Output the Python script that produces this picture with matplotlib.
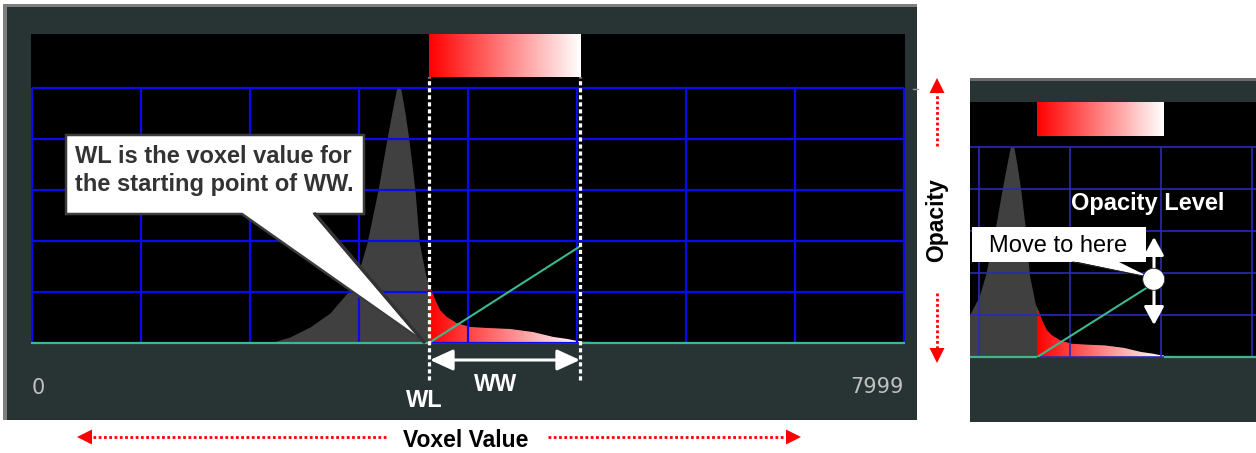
import numpy as np
import matplotlib.pyplot as plt
from matplotlib.colors import LinearSegmentedColormap
from matplotlib.patches import Polygon, Rectangle, Circle

# voxel histogram (normalised counts)
hist_x = [2183, 2367, 2550, 2734, 2890, 3000, 3073, 3174, 3254, 3300, 3345, 3382,
          3422, 3458, 3513, 3553, 3596, 3620, 3645, 3697, 3742, 3804, 3896, 4018,
          4171, 4385, 4596, 4779, 4908, 4999, 5118, 5137]
hist_h = [0.0, 0.024, 0.063, 0.118, 0.196, 0.286, 0.392, 0.600, 0.796, 0.902, 1.0, 1.0,
          0.902, 0.796, 0.600, 0.392, 0.30, 0.25, 0.227, 0.169, 0.129, 0.102, 0.078, 0.063,
          0.059, 0.055, 0.043, 0.024, 0.016, 0.008, 0.008, 0.0]

x_max = 7999
wl = 3640            # window level
ww = 1390            # window width
opacity_level = 0.38
grid_x = [0, 1000, 2000, 3000, 4000, 5000, 6000, 7000, 7999]
grid_y = [0, 0.2, 0.4, 0.6, 0.8, 1.0]
zoom_grid_x = [3000, 4000, 5000, 6000]
handle = (4920, 0.37)

W, H = 1256, 453
PANEL = '#283434'
GREEN = '#3db88c'
FONT = 'Liberation Sans'
red_white = LinearSegmentedColormap.from_list('rw', ['#ff0000', '#ffffff'])

fig = plt.figure(figsize=(W / 100, H / 100), dpi=100)


def px_axes(l, t, r, b, z):
    return fig.add_axes([l / W, 1 - b / H, (r - l) / W, (b - t) / H], zorder=z)


# background (pixel coordinates)
bg = fig.add_axes([0, 0, 1, 1], zorder=0)
bg.set_xlim(0, W)
bg.set_ylim(H, 0)
bg.set_axis_off()
bg.add_patch(Rectangle((3, 4), 914, 416, color=PANEL, lw=0))
bg.add_patch(Rectangle((3, 4), 914, 3, color='#7f7f7f', lw=0))
bg.add_patch(Rectangle((3, 4), 4, 416, color='#7f7f7f', lw=0))
bg.add_patch(Rectangle((970, 78), 286, 344, color=PANEL, lw=0))
bg.add_patch(Rectangle((970, 78), 286, 3, color='#6a6a6a', lw=0))
bg.plot([913, 918], [89, 89], color='#9a9a9a', lw=1)


def draw_panel(ax, xlim, gx, gcolor, glw, bar_y, hx0, hx1):
    ax.set_facecolor('black')
    for s in ax.spines.values():
        s.set_visible(False)
    ax.set_xticks([])
    ax.set_yticks([])
    xs = np.array(hist_x, float)
    hs = np.array(hist_h)
    ax.fill_between(xs, hs, color='#404040', lw=0, zorder=2)
    # part of the histogram inside the window gets the colour ramp
    inside = (xs > wl) & (xs < wl + ww)
    top_x = np.concatenate([[wl], xs[inside], [wl + ww]])
    top_y = np.concatenate([[np.interp(wl, xs, hs)], hs[inside], [np.interp(wl + ww, xs, hs)]])
    verts = np.column_stack([np.r_[top_x, wl + ww, wl], np.r_[top_y, 0, 0]])
    clip = Polygon(verts, closed=True, fc='none', ec='none', transform=ax.transData)
    ax.add_patch(clip)
    grad = np.linspace(0, 1, 256).reshape(1, -1)
    im = ax.imshow(grad, cmap=red_white, extent=[wl, wl + ww, 0, 1], aspect='auto', zorder=3)
    im.set_clip_path(clip)
    ax.imshow(grad, cmap=red_white, extent=[wl, wl + ww, bar_y[0], bar_y[1]],
              aspect='auto', zorder=3)
    # grid
    ax.hlines(grid_y, hx0, hx1, colors=gcolor, lw=glw, zorder=4)
    ax.vlines(gx, 0, 1, colors=gcolor, lw=glw, zorder=4)
    # opacity curve
    ax.hlines(0, xlim[0], wl, colors=GREEN, lw=1.6, zorder=5, clip_on=False)
    ax.hlines(0, wl + ww, xlim[1], colors=GREEN, lw=1.6, zorder=5, clip_on=False)
    ax.plot([wl, wl + ww], [0, opacity_level], color=GREEN, lw=1.5, zorder=5)
    ax.set_xlim(*xlim)
    ax.set_ylim(0, 1.212)


ax = px_axes(31, 34, 905, 343, 1)
draw_panel(ax, (-9, 8008), grid_x, '#0a0af0', 1.6, (1.043, 1.208), 0, x_max)
for xv in (wl, wl + ww):
    ax.plot([xv, xv], [-0.145, 1.043], color='white', lw=2.3, ls=(0, (1.3, 0.9)),
            zorder=6, clip_on=False)

ax2 = px_axes(970, 102, 1256, 357, 1)
draw_panel(ax2, (2901, 6044), zoom_grid_x, '#2a2ab8', 1.2, (1.05, 1.21), 2901, 6044)

# overlay for annotations (pixel coordinates)
ov = fig.add_axes([0, 0, 1, 1], zorder=5)
ov.set_xlim(0, W)
ov.set_ylim(H, 0)
ov.set_axis_off()
ov.patch.set_alpha(0)

ov.text(32, 394, '0', color='#c0c0c0', fontsize=15, ha='left', va='baseline')
ov.text(904, 393, '7999', color='#c0c0c0', fontsize=15, ha='right', va='baseline')

# callout on main panel
call = [(66, 135), (364, 135), (364, 214), (315, 214), (424, 342), (242, 214), (66, 214)]
ov.add_patch(Polygon(call, closed=True, fc='white', ec='#3c3c3c', lw=1.8, zorder=3))
ov.plot([315, 424], [214, 342], color='#333333', lw=2.5, zorder=4, solid_capstyle='round')
ov.text(75, 163, 'WL is the voxel value for', fontsize=17, fontweight='bold',
        color='#333333', family=FONT, ha='left', va='baseline', zorder=5)
ov.text(75, 191, 'the starting point of WW.', fontsize=17, fontweight='bold',
        color='#333333', family=FONT, ha='left', va='baseline', zorder=5)

# WW double arrow and labels
ov.annotate('', xy=(430, 360), xytext=(580, 360),
            arrowprops=dict(arrowstyle='<|-|>,head_length=0.7,head_width=0.32',
                            color='white', lw=2.2, mutation_scale=20,
                            shrinkA=0, shrinkB=0))
ov.text(424, 407, 'WL', fontsize=17, fontweight='bold', color='white', family=FONT,
        ha='center', va='baseline')
ov.text(496, 391, 'WW', fontsize=16.5, fontweight='bold', color='white', family=FONT,
        ha='center', va='baseline')


def red_arrow(x0, y0, x1, y1, hl=15, hw=7.5):
    d = np.array([x1 - x0, y1 - y0], float)
    u = d / np.hypot(*d)
    n = np.array([-u[1], u[0]])
    base = np.array([x1, y1]) - u * hl
    ov.plot([x0, base[0]], [y0, base[1]], color='red', lw=2, ls=(0, (1, 0.9)))
    ov.add_patch(Polygon([(x1, y1), base + n * hw, base - n * hw], closed=True,
                         color='red', lw=0))


ov.text(466, 447, 'Voxel Value', fontsize=16.5, fontweight='bold', color='black',
        family=FONT, ha='center', va='baseline')
red_arrow(386, 437, 77, 437)
red_arrow(548, 437, 801, 437)
ov.text(937, 220, 'Opacity', fontsize=16.5, fontweight='bold', color='black',
        family=FONT, ha='center', va='center', rotation=90)
red_arrow(937, 146, 937, 78)
red_arrow(937, 293, 937, 363)

# right panel annotations
ov.text(1148, 210, 'Opacity Level', fontsize=17, fontweight='bold', color='white',
        family=FONT, ha='center', va='baseline')
ov.annotate('', xy=(1154, 237), xytext=(1154, 325),
            arrowprops=dict(arrowstyle='<|-|>,head_length=0.55,head_width=0.3',
                            color='white', lw=2.2, mutation_scale=20,
                            shrinkA=0, shrinkB=0))
hx = 979 + (handle[0] - 3000) * 0.0910
hy = 357 - handle[1] * 210
ov.add_patch(Circle((hx, hy), 11, fc='white', ec='#202020', lw=0.6, zorder=4))
ov.add_patch(Rectangle((972, 227), 174, 35, fc='white', ec='none', zorder=3))
ov.add_patch(Polygon([(1073, 261), (1117, 261), (hx - 4, hy - 2)], closed=True,
                     fc='white', ec='none', zorder=3))
ov.plot([1073, hx - 4], [262, hy - 2], color='#202020', lw=0.8, zorder=3)
ov.text(1058, 252, 'Move to here', fontsize=17, color='black', family=FONT,
        ha='center', va='baseline', zorder=5)

fig.savefig('out.png', dpi=100)
